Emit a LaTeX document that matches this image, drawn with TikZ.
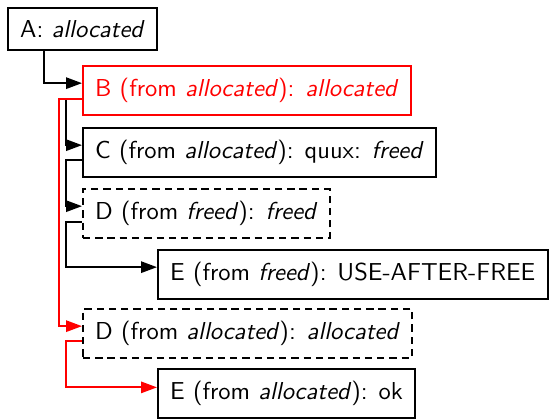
\documentclass[tikz,border=0pt]{standalone}
\usepackage{tikz}
\usetikzlibrary{arrows.meta}

\tikzset{
	statebox/.style={draw, line width=0.8pt, inner sep=5pt, anchor=north west, font=\sffamily},
	maybe/.style={dash pattern=on 3pt off 2pt},
	hot/.style={red, text=red},
}

\begin{document}
\begin{tikzpicture}[x=0.408pt, y=-0.408pt, >={Triangle[length=6.5pt,width=4.6pt]}, line width=0.8pt]
		
		\useasboundingbox (0,0) rectangle (549,419);
		
		\node[statebox] (a) at (7,7) {A: \textit{allocated}};
		\node[statebox,hot] (b) at (82,65) {B (from \textit{allocated}): \textit{allocated}};
		\node[statebox] (c) at (82,127) {C (from \textit{allocated}): quux: \textit{freed}};
		\node[statebox,maybe] (d1) at (82,188) {D (from \textit{freed}): \textit{freed}};
		\node[statebox] (e1) at (157,249) {E (from \textit{freed}): USE-AFTER-FREE};
		\node[statebox,maybe] (d2) at (82,308) {D (from \textit{allocated}): \textit{allocated}};
		\node[statebox] (e2) at (157,368) {E (from \textit{allocated}): ok};
		
		% black paths first, red ones over them
		\draw[->] ([xshift=15pt]a.south west) |- ([yshift=3pt]b.west);
		\draw[->] ([yshift=-3.5pt]b.west) -- ++(-16,0) |- ([yshift=3pt]c.west);
		\draw[->] ([yshift=-3pt]c.west) -- ++(-16,0) |- ([yshift=3pt]d1.west);
		\draw[->] ([yshift=-3.5pt]d1.west) -- ++(-16,0) |- ([yshift=3pt]e1.west);
		
		\draw[->,red] ([yshift=-3.5pt]b.west) -- ++(-23,0) |- ([yshift=3pt]d2.west);
		\draw[->,red] ([yshift=-3pt]d2.west) -- ++(-16,0) |- ([yshift=2.5pt]e2.west);
		
\end{tikzpicture}
\end{document}
